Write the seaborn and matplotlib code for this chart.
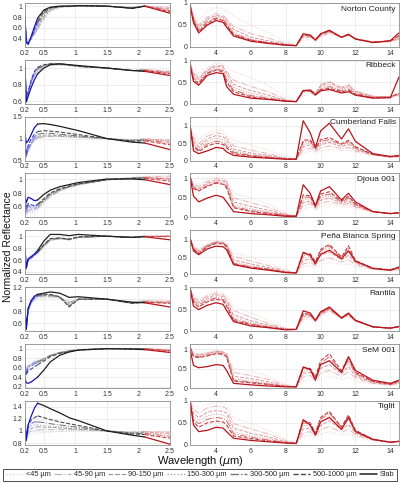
import matplotlib
matplotlib.use('Agg')
import matplotlib.pyplot as plt
import seaborn as sns
import numpy as np
from matplotlib.lines import Line2D
from matplotlib.ticker import StrMethodFormatter

# meteorites and grain sizes
meteorites = ['Norton County', 'Ribbeck', 'Cumberland Falls', 'Djoua 001',
              'Peña Blanca Spring', 'Rantila', 'SeM 001', 'Tiglit']
grain_sizes = ['<45 µm', '45-90 µm', '90-150 µm', '150-300 µm',
               '300-500 µm', '500-1000 µm', 'Slab']

# wavelength sampling (µm)
wl_vis = [0.2, 0.22, 0.25, 0.3, 0.35, 0.4, 0.5, 0.6, 0.75, 0.9, 1.05, 1.5, 1.9, 2.1, 2.5]
wl_ir = [2.5, 2.7, 3.0, 3.5, 4.0, 4.4, 4.6, 5.0, 6.0, 7.0, 8.0, 8.6, 9.0, 9.4, 9.7,
         10.0, 10.5, 11.2, 11.6, 12.0, 13.0, 14.0, 14.5]

# rows = grain sizes (<45 ... Slab)
norton_vis = [
    [0.70, 0.45, 0.36, 0.40, 0.47, 0.56, 0.75, 0.90, 0.97, 0.99, 1.00, 1.00, 0.98, 1.00, 0.99],
    [0.72, 0.42, 0.34, 0.40, 0.48, 0.58, 0.78, 0.92, 0.98, 0.99, 1.00, 1.00, 0.98, 1.00, 0.97],
    [0.74, 0.40, 0.33, 0.40, 0.50, 0.62, 0.82, 0.94, 0.99, 1.00, 1.00, 1.00, 0.97, 1.00, 0.95],
    [0.75, 0.38, 0.32, 0.41, 0.52, 0.64, 0.84, 0.95, 0.99, 1.00, 1.00, 1.00, 0.97, 1.00, 0.94],
    [0.76, 0.36, 0.31, 0.42, 0.55, 0.68, 0.87, 0.96, 0.99, 1.00, 1.01, 1.00, 0.97, 1.00, 0.92],
    [0.77, 0.34, 0.30, 0.43, 0.58, 0.72, 0.90, 0.97, 1.00, 1.00, 1.01, 1.00, 0.96, 1.00, 0.90],
    [0.80, 0.33, 0.30, 0.45, 0.62, 0.78, 0.93, 0.98, 1.00, 1.00, 1.01, 1.00, 0.96, 1.00, 0.87],
]
norton_ir = [
    [1.00, 0.80, 0.62, 0.82, 0.90, 0.86, 0.80, 0.70, 0.50, 0.32, 0.12, 0.05, 0.14, 0.18, 0.12, 0.20, 0.30, 0.22, 0.25, 0.20, 0.10, 0.12, 0.16],
    [0.98, 0.70, 0.50, 0.68, 0.76, 0.72, 0.64, 0.47, 0.30, 0.20, 0.08, 0.04, 0.20, 0.22, 0.15, 0.24, 0.32, 0.22, 0.26, 0.19, 0.11, 0.12, 0.18],
    [0.97, 0.66, 0.45, 0.64, 0.72, 0.68, 0.60, 0.40, 0.22, 0.14, 0.06, 0.03, 0.24, 0.24, 0.16, 0.26, 0.34, 0.22, 0.28, 0.18, 0.11, 0.13, 0.20],
    [0.96, 0.64, 0.42, 0.62, 0.70, 0.66, 0.56, 0.34, 0.18, 0.11, 0.05, 0.03, 0.26, 0.25, 0.16, 0.27, 0.35, 0.22, 0.28, 0.18, 0.11, 0.13, 0.22],
    [0.95, 0.62, 0.38, 0.58, 0.66, 0.62, 0.52, 0.30, 0.16, 0.10, 0.05, 0.03, 0.27, 0.26, 0.15, 0.28, 0.36, 0.22, 0.28, 0.18, 0.11, 0.14, 0.24],
    [0.95, 0.60, 0.35, 0.54, 0.64, 0.60, 0.50, 0.28, 0.15, 0.09, 0.04, 0.03, 0.28, 0.26, 0.16, 0.29, 0.37, 0.22, 0.28, 0.18, 0.11, 0.14, 0.26],
    [0.95, 0.55, 0.32, 0.50, 0.60, 0.56, 0.45, 0.25, 0.13, 0.08, 0.04, 0.03, 0.30, 0.27, 0.16, 0.30, 0.38, 0.22, 0.29, 0.18, 0.10, 0.14, 0.32],
]
ribbeck_vis = [
    [1.00, 0.66, 0.70, 0.80, 0.88, 0.94, 1.00, 1.03, 1.04, 1.03, 1.02, 1.00, 0.97, 0.98, 0.97],
    [1.00, 0.64, 0.70, 0.82, 0.92, 0.97, 1.02, 1.04, 1.04, 1.03, 1.02, 1.00, 0.97, 0.98, 0.96],
    [1.01, 0.62, 0.72, 0.85, 0.95, 1.00, 1.03, 1.05, 1.05, 1.04, 1.02, 1.00, 0.97, 0.98, 0.95],
    [1.01, 0.62, 0.70, 0.82, 0.91, 0.96, 1.01, 1.04, 1.04, 1.03, 1.02, 1.00, 0.97, 0.98, 0.95],
    [1.02, 0.61, 0.71, 0.84, 0.94, 0.99, 1.03, 1.05, 1.05, 1.04, 1.02, 1.00, 0.97, 0.97, 0.94],
    [1.02, 0.60, 0.72, 0.86, 0.96, 1.01, 1.04, 1.05, 1.05, 1.04, 1.02, 1.00, 0.97, 0.97, 0.93],
    [1.03, 0.59, 0.66, 0.77, 0.86, 0.93, 1.00, 1.04, 1.05, 1.04, 1.03, 1.00, 0.97, 0.96, 0.91],
]
ribbeck_ir = [
    [0.95, 0.80, 0.70, 0.85, 0.95, 0.92, 0.85, 0.75, 0.60, 0.42, 0.16, 0.06, 0.18, 0.25, 0.20, 0.40, 0.45, 0.35, 0.40, 0.30, 0.18, 0.15, 0.18],
    [0.95, 0.72, 0.62, 0.80, 0.90, 0.88, 0.75, 0.55, 0.40, 0.28, 0.10, 0.05, 0.25, 0.30, 0.22, 0.45, 0.52, 0.38, 0.45, 0.30, 0.18, 0.15, 0.20],
    [0.94, 0.68, 0.58, 0.78, 0.87, 0.85, 0.70, 0.45, 0.30, 0.20, 0.08, 0.05, 0.28, 0.32, 0.24, 0.42, 0.50, 0.36, 0.42, 0.28, 0.17, 0.16, 0.22],
    [0.93, 0.64, 0.55, 0.75, 0.83, 0.80, 0.62, 0.38, 0.24, 0.16, 0.07, 0.05, 0.29, 0.33, 0.24, 0.38, 0.45, 0.33, 0.38, 0.26, 0.16, 0.16, 0.22],
    [0.92, 0.60, 0.50, 0.72, 0.80, 0.77, 0.55, 0.32, 0.19, 0.13, 0.07, 0.05, 0.30, 0.33, 0.23, 0.34, 0.40, 0.30, 0.34, 0.24, 0.15, 0.16, 0.24],
    [0.91, 0.56, 0.47, 0.70, 0.78, 0.74, 0.50, 0.28, 0.16, 0.11, 0.06, 0.05, 0.31, 0.32, 0.22, 0.32, 0.36, 0.28, 0.31, 0.22, 0.14, 0.15, 0.25],
    [0.90, 0.52, 0.43, 0.66, 0.72, 0.70, 0.40, 0.22, 0.13, 0.10, 0.06, 0.05, 0.31, 0.30, 0.20, 0.30, 0.33, 0.25, 0.28, 0.20, 0.13, 0.14, 0.62],
]
cumberland_vis = [
    [0.90, 0.56, 0.70, 0.85, 0.95, 1.00, 1.03, 1.04, 1.04, 1.03, 1.02, 1.00, 0.98, 1.00, 0.98],
    [0.95, 0.58, 0.74, 0.88, 0.98, 1.02, 1.05, 1.05, 1.05, 1.04, 1.03, 1.00, 0.97, 0.99, 0.96],
    [0.98, 0.60, 0.76, 0.90, 1.00, 1.05, 1.08, 1.08, 1.07, 1.06, 1.04, 1.00, 0.96, 0.98, 0.94],
    [0.97, 0.58, 0.72, 0.86, 0.96, 1.02, 1.05, 1.06, 1.05, 1.04, 1.03, 1.00, 0.97, 0.99, 0.96],
    [1.00, 0.62, 0.78, 0.93, 1.04, 1.10, 1.12, 1.12, 1.10, 1.08, 1.06, 1.00, 0.95, 0.97, 0.90],
    [1.05, 0.65, 0.85, 1.00, 1.10, 1.16, 1.18, 1.17, 1.15, 1.12, 1.09, 1.00, 0.94, 0.95, 0.86],
    [1.12, 0.90, 0.95, 1.10, 1.25, 1.33, 1.34, 1.32, 1.28, 1.23, 1.18, 1.00, 0.92, 0.90, 0.75],
]
cumberland_ir = [
    [1.00, 0.75, 0.60, 0.80, 0.88, 0.85, 0.76, 0.58, 0.45, 0.30, 0.12, 0.05, 0.22, 0.28, 0.20, 0.28, 0.33, 0.28, 0.30, 0.24, 0.15, 0.10, 0.10],
    [1.00, 0.65, 0.48, 0.70, 0.80, 0.76, 0.66, 0.42, 0.30, 0.20, 0.08, 0.04, 0.30, 0.36, 0.25, 0.36, 0.42, 0.34, 0.38, 0.28, 0.16, 0.10, 0.11],
    [1.00, 0.55, 0.40, 0.62, 0.72, 0.68, 0.58, 0.33, 0.22, 0.15, 0.06, 0.04, 0.40, 0.45, 0.30, 0.45, 0.52, 0.40, 0.46, 0.32, 0.17, 0.11, 0.12],
    [1.00, 0.50, 0.35, 0.55, 0.64, 0.60, 0.50, 0.28, 0.18, 0.12, 0.05, 0.04, 0.45, 0.50, 0.32, 0.50, 0.56, 0.44, 0.50, 0.35, 0.18, 0.11, 0.12],
    [1.00, 0.45, 0.30, 0.48, 0.56, 0.52, 0.42, 0.24, 0.15, 0.10, 0.05, 0.04, 0.52, 0.55, 0.34, 0.55, 0.60, 0.46, 0.54, 0.37, 0.18, 0.11, 0.13],
    [1.00, 0.40, 0.26, 0.42, 0.50, 0.46, 0.36, 0.20, 0.13, 0.09, 0.05, 0.04, 0.58, 0.60, 0.36, 0.60, 0.66, 0.48, 0.58, 0.40, 0.18, 0.11, 0.13],
    [1.00, 0.28, 0.20, 0.28, 0.38, 0.35, 0.25, 0.15, 0.10, 0.07, 0.04, 0.04, 1.14, 0.80, 0.38, 0.85, 1.07, 0.62, 0.91, 0.55, 0.20, 0.12, 0.15],
]
djoua_vis = [
    [0.62, 0.48, 0.52, 0.50, 0.53, 0.56, 0.66, 0.74, 0.82, 0.87, 0.91, 0.99, 1.02, 1.04, 1.05],
    [0.64, 0.50, 0.55, 0.53, 0.56, 0.58, 0.67, 0.75, 0.83, 0.88, 0.92, 0.99, 1.02, 1.03, 1.04],
    [0.66, 0.52, 0.58, 0.56, 0.58, 0.60, 0.69, 0.77, 0.84, 0.89, 0.92, 0.99, 1.01, 1.02, 1.01],
    [0.68, 0.54, 0.60, 0.58, 0.60, 0.62, 0.70, 0.78, 0.85, 0.89, 0.93, 0.99, 1.01, 1.02, 1.00],
    [0.70, 0.56, 0.62, 0.60, 0.61, 0.63, 0.70, 0.78, 0.85, 0.89, 0.93, 0.99, 1.01, 1.02, 1.00],
    [0.72, 0.58, 0.65, 0.63, 0.62, 0.64, 0.72, 0.80, 0.86, 0.90, 0.93, 0.99, 1.01, 1.01, 0.97],
    [0.76, 0.66, 0.74, 0.72, 0.69, 0.70, 0.78, 0.84, 0.89, 0.92, 0.95, 1.00, 1.00, 0.99, 0.92],
]
djoua_ir = [
    [1.05, 0.90, 0.85, 0.95, 1.02, 1.00, 0.95, 0.62, 0.50, 0.35, 0.13, 0.04, 0.22, 0.28, 0.18, 0.28, 0.35, 0.28, 0.30, 0.22, 0.14, 0.10, 0.11],
    [1.05, 0.85, 0.80, 0.92, 1.00, 0.98, 0.92, 0.50, 0.38, 0.26, 0.09, 0.04, 0.30, 0.36, 0.22, 0.36, 0.42, 0.32, 0.36, 0.26, 0.15, 0.10, 0.11],
    [1.05, 0.80, 0.75, 0.88, 0.96, 0.94, 0.88, 0.40, 0.28, 0.19, 0.07, 0.03, 0.38, 0.42, 0.25, 0.44, 0.50, 0.36, 0.42, 0.29, 0.15, 0.10, 0.12],
    [1.05, 0.78, 0.72, 0.85, 0.93, 0.90, 0.84, 0.33, 0.22, 0.15, 0.06, 0.03, 0.45, 0.48, 0.26, 0.50, 0.56, 0.38, 0.46, 0.31, 0.15, 0.10, 0.12],
    [1.05, 0.76, 0.70, 0.82, 0.90, 0.87, 0.80, 0.28, 0.18, 0.12, 0.05, 0.03, 0.52, 0.52, 0.27, 0.55, 0.60, 0.40, 0.50, 0.33, 0.15, 0.10, 0.12],
    [1.05, 0.74, 0.68, 0.80, 0.88, 0.85, 0.76, 0.25, 0.15, 0.10, 0.05, 0.03, 0.58, 0.55, 0.28, 0.60, 0.66, 0.42, 0.54, 0.35, 0.15, 0.10, 0.12],
    [1.05, 0.55, 0.40, 0.50, 0.57, 0.52, 0.40, 0.15, 0.10, 0.07, 0.03, 0.03, 0.84, 0.62, 0.30, 0.68, 0.79, 0.45, 0.62, 0.40, 0.15, 0.10, 0.12],
]
pena_vis = [
    [0.70, 0.50, 0.58, 0.62, 0.66, 0.71, 0.82, 0.92, 0.95, 0.94, 0.98, 1.00, 0.98, 1.00, 1.00],
    [0.72, 0.49, 0.59, 0.63, 0.67, 0.72, 0.83, 0.93, 0.96, 0.94, 0.98, 1.00, 0.98, 1.00, 1.00],
    [0.74, 0.48, 0.60, 0.63, 0.68, 0.72, 0.84, 0.94, 0.96, 0.94, 0.98, 1.00, 0.98, 1.00, 1.01],
    [0.75, 0.48, 0.60, 0.64, 0.68, 0.73, 0.84, 0.94, 0.96, 0.95, 0.98, 1.00, 0.98, 1.00, 1.00],
    [0.77, 0.47, 0.61, 0.64, 0.69, 0.73, 0.85, 0.95, 0.97, 0.95, 0.98, 1.00, 0.98, 1.00, 1.00],
    [0.78, 0.47, 0.61, 0.65, 0.69, 0.74, 0.86, 0.96, 0.97, 0.95, 0.99, 1.00, 0.98, 1.00, 1.00],
    [0.80, 0.46, 0.62, 0.66, 0.70, 0.76, 0.92, 1.03, 1.03, 1.01, 1.03, 1.00, 0.98, 0.99, 0.94],
]
pena_ir = [
    [1.05, 0.85, 0.75, 0.88, 0.95, 0.93, 0.88, 0.62, 0.50, 0.35, 0.14, 0.05, 0.20, 0.25, 0.18, 0.28, 0.35, 0.28, 0.30, 0.22, 0.14, 0.10, 0.12],
    [1.05, 0.80, 0.70, 0.86, 0.94, 0.92, 0.86, 0.52, 0.38, 0.26, 0.10, 0.04, 0.30, 0.35, 0.25, 0.40, 0.48, 0.36, 0.42, 0.28, 0.15, 0.11, 0.14],
    [1.05, 0.78, 0.67, 0.85, 0.95, 0.93, 0.86, 0.42, 0.30, 0.20, 0.08, 0.04, 0.40, 0.45, 0.30, 0.55, 0.65, 0.42, 0.55, 0.33, 0.16, 0.12, 0.16],
    [1.05, 0.76, 0.64, 0.83, 0.93, 0.92, 0.84, 0.36, 0.25, 0.17, 0.07, 0.04, 0.48, 0.52, 0.33, 0.62, 0.75, 0.46, 0.65, 0.36, 0.17, 0.12, 0.18],
    [1.05, 0.74, 0.62, 0.82, 0.92, 0.90, 0.82, 0.32, 0.22, 0.15, 0.06, 0.04, 0.55, 0.58, 0.35, 0.68, 0.82, 0.48, 0.75, 0.38, 0.18, 0.13, 0.20],
    [1.05, 0.72, 0.60, 0.80, 0.90, 0.88, 0.80, 0.30, 0.20, 0.14, 0.06, 0.04, 0.60, 0.60, 0.36, 0.72, 0.87, 0.50, 0.83, 0.40, 0.18, 0.13, 0.22],
    [1.06, 0.68, 0.57, 0.74, 0.82, 0.80, 0.72, 0.28, 0.18, 0.12, 0.05, 0.04, 0.64, 0.55, 0.30, 0.58, 0.70, 0.45, 0.68, 0.38, 0.17, 0.12, 0.20],
]
rantila_vis = [
    [0.80, 0.56, 0.78, 0.92, 0.98, 1.02, 1.02, 1.03, 1.02, 0.97, 1.00, 1.00, 0.95, 0.98, 0.98],
    [0.82, 0.55, 0.80, 0.94, 1.00, 1.04, 1.04, 1.04, 1.02, 0.95, 1.00, 1.00, 0.95, 0.97, 0.96],
    [0.84, 0.53, 0.82, 0.95, 1.02, 1.05, 1.06, 1.06, 1.03, 0.92, 1.00, 1.00, 0.94, 0.96, 0.95],
    [0.84, 0.53, 0.80, 0.94, 1.01, 1.05, 1.05, 1.05, 1.03, 0.94, 1.00, 1.00, 0.94, 0.97, 0.96],
    [0.85, 0.51, 0.83, 0.96, 1.03, 1.06, 1.07, 1.07, 1.04, 0.89, 1.00, 1.00, 0.93, 0.95, 0.94],
    [0.86, 0.50, 0.84, 0.97, 1.04, 1.07, 1.08, 1.08, 1.04, 0.87, 1.00, 1.00, 0.93, 0.95, 0.93],
    [0.88, 0.50, 0.85, 0.98, 1.05, 1.08, 1.10, 1.12, 1.10, 1.03, 1.04, 1.00, 0.95, 0.94, 0.87],
]
rantila_ir = [
    [1.00, 0.82, 0.75, 0.85, 0.92, 0.88, 0.80, 0.58, 0.42, 0.25, 0.08, 0.04, 0.25, 0.30, 0.20, 0.35, 0.45, 0.30, 0.34, 0.22, 0.10, 0.07, 0.09],
    [1.00, 0.78, 0.70, 0.82, 0.88, 0.84, 0.75, 0.48, 0.32, 0.18, 0.06, 0.04, 0.30, 0.34, 0.22, 0.38, 0.48, 0.30, 0.36, 0.23, 0.10, 0.07, 0.09],
    [1.00, 0.75, 0.66, 0.78, 0.84, 0.80, 0.70, 0.38, 0.24, 0.14, 0.05, 0.04, 0.34, 0.36, 0.23, 0.40, 0.50, 0.30, 0.38, 0.24, 0.10, 0.07, 0.10],
    [1.00, 0.72, 0.62, 0.75, 0.80, 0.76, 0.66, 0.32, 0.20, 0.12, 0.05, 0.04, 0.37, 0.37, 0.24, 0.41, 0.52, 0.30, 0.39, 0.24, 0.10, 0.07, 0.10],
    [1.00, 0.70, 0.60, 0.72, 0.77, 0.73, 0.62, 0.28, 0.17, 0.10, 0.04, 0.04, 0.39, 0.38, 0.24, 0.42, 0.53, 0.30, 0.40, 0.25, 0.10, 0.07, 0.10],
    [1.00, 0.66, 0.56, 0.68, 0.74, 0.70, 0.58, 0.25, 0.15, 0.09, 0.04, 0.04, 0.41, 0.39, 0.25, 0.43, 0.54, 0.30, 0.40, 0.25, 0.10, 0.07, 0.10],
    [1.00, 0.58, 0.50, 0.60, 0.66, 0.62, 0.48, 0.22, 0.12, 0.08, 0.03, 0.04, 0.47, 0.42, 0.25, 0.45, 0.56, 0.31, 0.42, 0.25, 0.10, 0.07, 0.11],
]
sem_vis = [
    [0.74, 0.56, 0.66, 0.70, 0.74, 0.76, 0.80, 0.87, 0.93, 0.96, 0.98, 1.00, 1.00, 1.00, 0.98],
    [0.73, 0.52, 0.64, 0.68, 0.72, 0.74, 0.79, 0.86, 0.92, 0.96, 0.98, 1.00, 1.00, 1.00, 0.98],
    [0.72, 0.50, 0.63, 0.67, 0.71, 0.73, 0.79, 0.86, 0.92, 0.95, 0.98, 1.00, 1.00, 1.00, 0.97],
    [0.71, 0.48, 0.62, 0.65, 0.70, 0.72, 0.78, 0.85, 0.91, 0.95, 0.98, 1.00, 1.00, 1.00, 0.97],
    [0.70, 0.46, 0.60, 0.63, 0.68, 0.71, 0.77, 0.85, 0.91, 0.95, 0.98, 1.00, 1.00, 1.00, 0.96],
    [0.66, 0.44, 0.55, 0.57, 0.62, 0.66, 0.74, 0.83, 0.90, 0.94, 0.97, 1.00, 1.00, 0.99, 0.95],
    [0.38, 0.28, 0.27, 0.30, 0.35, 0.40, 0.55, 0.72, 0.86, 0.93, 0.97, 1.00, 0.99, 0.98, 0.92],
]
sem_ir = [
    [1.05, 0.90, 0.88, 0.92, 0.96, 0.94, 0.90, 0.50, 0.42, 0.30, 0.10, 0.04, 0.18, 0.22, 0.16, 0.25, 0.30, 0.22, 0.28, 0.18, 0.10, 0.07, 0.10],
    [1.05, 0.88, 0.86, 0.90, 0.95, 0.93, 0.88, 0.40, 0.32, 0.22, 0.07, 0.03, 0.28, 0.32, 0.20, 0.38, 0.45, 0.30, 0.42, 0.25, 0.12, 0.08, 0.12],
    [1.05, 0.86, 0.84, 0.88, 0.94, 0.92, 0.86, 0.30, 0.24, 0.16, 0.05, 0.03, 0.38, 0.40, 0.24, 0.50, 0.60, 0.36, 0.55, 0.30, 0.14, 0.08, 0.14],
    [1.05, 0.84, 0.82, 0.86, 0.92, 0.90, 0.84, 0.24, 0.18, 0.12, 0.05, 0.03, 0.44, 0.45, 0.26, 0.58, 0.70, 0.40, 0.65, 0.34, 0.15, 0.09, 0.15],
    [1.05, 0.82, 0.80, 0.84, 0.90, 0.88, 0.82, 0.20, 0.15, 0.10, 0.04, 0.03, 0.50, 0.48, 0.27, 0.64, 0.80, 0.42, 0.72, 0.37, 0.16, 0.10, 0.16],
    [1.05, 0.80, 0.78, 0.82, 0.88, 0.86, 0.80, 0.18, 0.13, 0.09, 0.04, 0.03, 0.54, 0.50, 0.28, 0.70, 0.88, 0.44, 0.80, 0.40, 0.17, 0.10, 0.18],
    [1.00, 0.58, 0.52, 0.55, 0.60, 0.58, 0.45, 0.12, 0.08, 0.05, 0.03, 0.03, 0.53, 0.48, 0.20, 0.60, 0.70, 0.40, 0.80, 0.45, 0.20, 0.12, 0.20],
]
tiglit_vis = [
    [0.95, 0.88, 0.92, 0.95, 0.96, 0.97, 0.97, 0.98, 0.99, 1.00, 1.01, 1.00, 0.98, 1.00, 1.00],
    [1.00, 0.88, 0.96, 1.00, 1.01, 1.02, 1.02, 1.02, 1.02, 1.02, 1.02, 1.00, 0.98, 0.99, 0.98],
    [1.05, 0.88, 1.00, 1.04, 1.06, 1.07, 1.06, 1.06, 1.05, 1.04, 1.03, 1.00, 0.97, 0.98, 0.96],
    [1.08, 0.88, 1.03, 1.08, 1.10, 1.10, 1.09, 1.08, 1.07, 1.05, 1.04, 1.00, 0.97, 0.97, 0.94],
    [1.12, 0.86, 1.06, 1.12, 1.15, 1.15, 1.14, 1.12, 1.10, 1.08, 1.06, 1.00, 0.96, 0.96, 0.91],
    [1.16, 0.86, 1.10, 1.18, 1.22, 1.25, 1.22, 1.19, 1.15, 1.12, 1.09, 1.00, 0.95, 0.94, 0.88],
    [1.20, 0.84, 1.10, 1.25, 1.38, 1.46, 1.42, 1.37, 1.30, 1.22, 1.17, 1.00, 0.93, 0.90, 0.78],
]
tiglit_ir = [
    [1.00, 0.88, 0.82, 0.92, 0.96, 0.94, 0.90, 0.62, 0.48, 0.33, 0.12, 0.04, 0.18, 0.22, 0.16, 0.24, 0.30, 0.22, 0.26, 0.18, 0.10, 0.06, 0.07],
    [1.00, 0.80, 0.72, 0.84, 0.88, 0.86, 0.82, 0.48, 0.36, 0.25, 0.09, 0.04, 0.26, 0.30, 0.20, 0.34, 0.42, 0.28, 0.36, 0.22, 0.11, 0.06, 0.08],
    [1.00, 0.72, 0.62, 0.74, 0.78, 0.76, 0.72, 0.38, 0.26, 0.18, 0.07, 0.04, 0.36, 0.38, 0.24, 0.44, 0.55, 0.34, 0.46, 0.26, 0.12, 0.06, 0.08],
    [1.00, 0.65, 0.55, 0.66, 0.70, 0.68, 0.63, 0.30, 0.20, 0.14, 0.06, 0.04, 0.44, 0.44, 0.26, 0.52, 0.65, 0.38, 0.56, 0.30, 0.13, 0.06, 0.08],
    [1.00, 0.58, 0.48, 0.58, 0.62, 0.60, 0.55, 0.25, 0.17, 0.11, 0.05, 0.03, 0.50, 0.48, 0.27, 0.58, 0.72, 0.40, 0.64, 0.32, 0.13, 0.06, 0.08],
    [1.00, 0.52, 0.40, 0.50, 0.54, 0.52, 0.45, 0.20, 0.14, 0.09, 0.05, 0.03, 0.55, 0.50, 0.26, 0.62, 0.76, 0.40, 0.68, 0.33, 0.13, 0.06, 0.08],
    [1.00, 0.45, 0.30, 0.33, 0.40, 0.38, 0.30, 0.15, 0.10, 0.07, 0.04, 0.03, 0.57, 0.45, 0.22, 0.52, 0.62, 0.35, 0.62, 0.30, 0.12, 0.06, 0.08],
]

vis_data = [norton_vis, ribbeck_vis, cumberland_vis, djoua_vis, pena_vis, rantila_vis, sem_vis, tiglit_vis]
ir_data = [norton_ir, ribbeck_ir, cumberland_ir, djoua_ir, pena_ir, rantila_ir, sem_ir, tiglit_ir]

# axis settings per panel
vis_ylims = [(0.25, 1.06), (0.57, 1.1), (0.5, 1.5), (0.45, 1.08),
             (0.36, 1.1), (0.47, 1.2), (0.17, 1.1), (0.77, 1.5)]
vis_yticks = [[0.4, 0.6, 0.8, 1], [0.6, 0.8, 1], [0.5, 1, 1.5], [0.6, 0.8, 1],
              [0.4, 0.6, 0.8, 1], [0.6, 0.8, 1, 1.2], [0.2, 0.4, 0.6, 0.8, 1], [0.8, 1, 1.2, 1.4]]
ir_ymax = [1.0, 1.02, 1.26, 1.13, 1.28, 1.02, 1.13, 1.0]

# styles per grain size
styles = [':', '-.', '--', ':', '-.', '--', '-']
fades = [0.80, 0.68, 0.55, 0.55, 0.38, 0.18, 0.0]
widths = [0.7, 0.7, 0.7, 0.7, 0.75, 0.8, 0.9]
BLUE = (0.08, 0.08, 0.70)
BLACK = (0.12, 0.12, 0.12)
RED = (0.72, 0.08, 0.10)


def tint(rgb, f):
    #mix a colour with white
    return tuple(c + (1 - c) * f for c in rgb)


sns.set_theme(style='whitegrid')
plt.rcParams['font.family'] = ['Liberation Sans', 'DejaVu Sans']
plt.rcParams['axes.edgecolor'] = '#8c8c8c'
plt.rcParams['grid.color'] = '#e6e6e6'
plt.rcParams['grid.linewidth'] = 0.5
plt.rcParams['axes.linewidth'] = 0.6

fig = plt.figure(figsize=(4.0, 4.83), dpi=100)
gs = fig.add_gridspec(8, 2, left=0.0625, right=0.9975, top=0.994, bottom=0.079,
                      hspace=0.29, wspace=0.113, width_ratios=[145, 209])

vis_segments = [(0, 5, BLUE), (5, 13, BLACK), (13, 14, RED)]

for row, name in enumerate(meteorites):
    ax_l = fig.add_subplot(gs[row, 0])
    ax_r = fig.add_subplot(gs[row, 1])

    for k in range(len(grain_sizes)):
        yv = vis_data[row][k]
        for i0, i1, base in vis_segments:
            sns.lineplot(x=wl_vis[i0:i1 + 1], y=yv[i0:i1 + 1], ax=ax_l,
                         color=tint(base, fades[k]), linestyle=styles[k],
                         linewidth=widths[k], estimator=None, sort=False)
        sns.lineplot(x=wl_ir, y=ir_data[row][k], ax=ax_r,
                     color=tint(RED, fades[k]), linestyle=styles[k],
                     linewidth=widths[k], estimator=None, sort=False)

    ax_l.set_xlim(0.2, 2.5)
    ax_l.set_ylim(*vis_ylims[row])
    ax_l.set_xticks([0.2, 0.5, 1, 1.5, 2, 2.5])
    ax_l.set_yticks(vis_yticks[row])
    ax_r.set_xlim(2.5, 14.5)
    ax_r.set_ylim(0, ir_ymax[row])
    ax_r.set_xticks([4, 6, 8, 10, 12, 14])
    ax_r.set_yticks([0, 0.5, 1])

    for ax in (ax_l, ax_r):
        ax.xaxis.set_major_formatter(StrMethodFormatter('{x:g}'))
        ax.yaxis.set_major_formatter(StrMethodFormatter('{x:g}'))
        ax.tick_params(labelsize=5, pad=2, length=0, colors='#333333')
        ax.set_xlabel('')
        ax.set_ylabel('')

    ax_r.text(0.985, 0.86, name, transform=ax_r.transAxes, ha='right',
              va='center', fontsize=6, color='#222222')

fig.text(0.02, 0.49, 'Normalized Reflectance', rotation=90, ha='center',
         va='center', fontsize=7.5, color='#111111')
fig.text(0.5, 0.045, r'Wavelength ($\mu$m)', ha='center', va='center',
         fontsize=8, color='#111111')

handles = [Line2D([0], [0], color=tint(BLACK, fades[k]), linestyle=styles[k],
                  linewidth=widths[k] + 0.2) for k in range(len(grain_sizes))]
leg = fig.legend(handles, grain_sizes, loc='lower left', ncol=7, mode='expand',
                 bbox_to_anchor=(0.0075, 0.004, 0.985, 0.029), fontsize=5.3,
                 frameon=True, fancybox=False, handlelength=2.4,
                 handletextpad=0.35, columnspacing=0.3, borderpad=0.35,
                 borderaxespad=0)
leg.get_frame().set_edgecolor('#222222')
leg.get_frame().set_linewidth(0.7)

fig.savefig('out.png', dpi=100)
